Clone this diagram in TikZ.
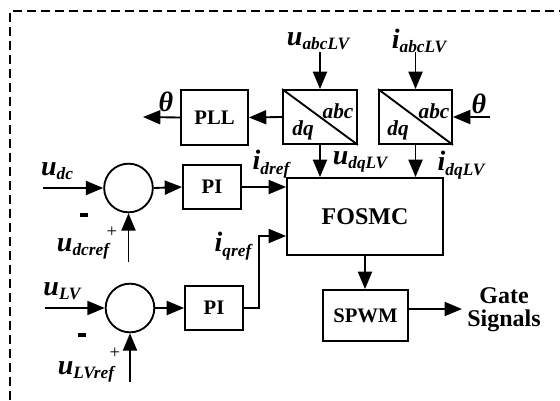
\documentclass[tikz,border=0pt]{standalone}
\usepackage{fontspec}
\setmainfont{Liberation Serif}
\usetikzlibrary{arrows.meta,calc}
\newcommand{\lab}[2]{{\fontsize{21}{22}\selectfont\bfseries\itshape #1\raisebox{-3.2pt}{\fontsize{13}{14}\selectfont #2}}}
\begin{document}
\begin{tikzpicture}[x=0.75pt,y=-0.75pt,
 blk/.style={draw,line width=1.4pt,inner sep=0pt,font=\fontsize{15.5}{16}\selectfont\bfseries},
 sumc/.style={draw,circle,line width=1.4pt,minimum size=36.5pt,inner sep=0pt},
 arr/.style={line width=1.4pt,-{Triangle[length=13pt,width=10.5pt]}},
 ln/.style={line width=1.4pt},
 txt/.style={inner sep=0pt},
 small/.style={inner sep=0pt,font=\fontsize{16}{17}\selectfont\bfseries\itshape},
 sign/.style={inner sep=0pt},
 plus/.style={inner sep=0pt,font=\fontsize{14}{15}\selectfont},
 ]
\useasboundingbox (0,0) rectangle (560,400);
% frame
\draw[line width=1.4pt,dash pattern=on 6.5pt off 4pt] (10,400) -- (10,11) -- (560,11);

% blocks
\node[blk,minimum width=50.25pt,minimum height=41.25pt] (pll) at (214.5,117.5) {PLL};
\node[blk,minimum width=55.5pt,minimum height=40.5pt] (b1) at (320,117) {};
\node[blk,minimum width=54.75pt,minimum height=40.5pt] (b2) at (415.5,117) {};
\node[blk,minimum width=117pt,minimum height=57.75pt,font=\fontsize{18}{19}\selectfont\bfseries] (fo) at (365,216.5) {FOSMC};
\node[blk,minimum width=43.5pt,minimum height=33pt] (p1) at (212,187) {PI};
\node[blk,minimum width=43.5pt,minimum height=33pt] (p2) at (214,308) {PI};
\node[blk,minimum width=63.75pt,minimum height=38.25pt] (sp) at (365.5,315.5) {SPWM};
\node[sumc] (c1) at (128.5,188) {};
\node[sumc] (c2) at (130,308) {};

% transform box contents
\draw[ln] (b1.north west) -- (b1.south east);
\draw[ln] (b2.north west) -- (b2.south east);
\node[small] (b1abc) at (338,111) {abc};
\node[small] (b1dq) at (303,130) {dq};
\node[small] (b2abc) at (434,111) {abc};
\node[small] (b2dq) at (398,130) {dq};

% labels
\node[txt] (luabc) at (318,41) {\lab{u}{abcLV}};
\node[txt] (liabc) at (419,41) {\lab{i}{abcLV}};
\node[txt] (lth1) at (166,102) {\fontsize{21}{22}\selectfont\bfseries\itshape θ};
\node[txt] (lth2) at (479,104) {\fontsize{21}{22}\selectfont\bfseries\itshape θ};
\node[txt] (ludq) at (360,162) {\lab{u}{dqLV}};
\node[txt] (lidq) at (461,165) {\lab{i}{dqLV}};
\node[txt] (lidref) at (271,164) {\lab{i}{dref}};
\node[txt] (liqref) at (233,246) {\lab{i}{qref}};
\node[txt] (ludc) at (57,171) {\lab{u}{dc}};
\node[txt] (ludcref) at (83,249) {\lab{u}{dcref}};
\node[txt] (lulv) at (62,291) {\lab{u}{LV}};
\node[txt] (lulvref) at (86,372) {\lab{u}{LVref}};
\node[sign] (m1) at (84,215) {\rule{6.5pt}{2.6pt}};
\node[sign] (m2) at (82,335) {\rule{6.5pt}{2.6pt}};
\node[plus] (pl1) at (112,232) {+};
\node[plus] (pl2) at (115,353) {+};
\node[txt,align=center,font=\fontsize{18}{17.5}\selectfont\bfseries] (gate) at (504,310) {Gate\\Signals};

% free ends
\coordinate (uin) at (320,52);
\coordinate (iin) at (415.5,52);
\coordinate (thout) at (143,117);
\coordinate (thin) at (490,117);
\coordinate (udcin) at (43,188);
\coordinate (udcrefin) at (128.5,262);
\coordinate (ulvin) at (45,308);
\coordinate (ulvrefin) at (130,382);
\coordinate (gout) at (462,309);
\path (fo.west) ++(0,19.5) coordinate (qin);

% connectors
\draw[arr] (uin) -- (b1.north);
\draw[arr] (iin) -- (b2.north);
\draw[arr] (thin) -- (b2.east);
\draw[arr] (b1.west) -- (pll.east);
\draw[arr] (pll.west) -- (thout);
\draw[arr] (b1.south) -- (b1.south |- fo.north);
\draw[arr] (b2.south) -- (b2.south |- fo.north);
\draw[arr] (udcin) -- (c1.west);
\draw[arr] (udcrefin) -- (c1.south);
\draw[arr] (c1.east) -- (p1.west);
\draw[arr] (p1.east) -- (p1.east -| fo.west);
\draw[arr] (ulvin) -- (c2.west);
\draw[arr] (ulvrefin) -- (c2.south);
\draw[arr] (c2.east) -- (p2.west);
\draw[arr] (p2.east) -- ++(15,0) |- (qin);
\draw[arr] (fo.south) -- (fo.south |- sp.north);
\draw[arr] (sp.east |- gout) -- (gout);
\end{tikzpicture}
\end{document}
